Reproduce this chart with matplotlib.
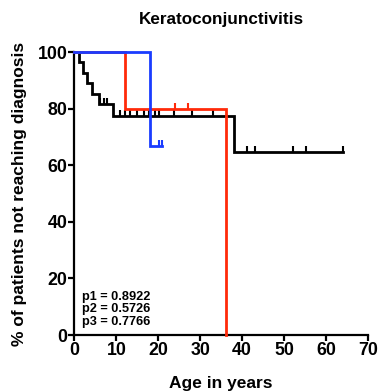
import matplotlib
matplotlib.use("Agg")
import matplotlib.pyplot as plt
import numpy as np
from matplotlib.path import Path

plt.rcParams['font.family'] = ['Liberation Sans', 'DejaVu Sans']
plt.rcParams['font.weight'] = 'bold'

# Black curve (steps)
black_t = [0, 1.1, 2.1, 3.0, 4.1, 5.8, 9.1, 38.0, 64.0]
black_s = [100, 96.3, 92.6, 88.9, 85.2, 81.5, 77.5, 64.6, 64.6]
black_cens_t = [6.2, 7.0, 7.8, 10.9, 12.1, 13.3, 14.9, 16.5, 17.9, 19.3, 20.1, 23.8, 28.0, 33.0,
                41.1, 43.1, 52.2, 55.2, 64.0]
black_cens_s = [81.5, 81.5, 81.5, 77.5, 77.5, 77.5, 77.5, 77.5, 77.5, 77.5, 77.5, 77.5, 77.5, 77.5,
                64.6, 64.6, 64.6, 64.6, 64.6]

# Red curve
red_t = [0, 12.1, 36.2]
red_s = [100, 80, 0]
red_cens_t = [24.0, 27.1]
red_cens_s = [80, 80]

# Blue curve
blue_t = [0, 18.0, 21.0]
blue_s = [100, 66.7, 66.7]
blue_cens_t = [20.1, 21.0]
blue_cens_s = [66.7, 66.7]

x_ticks = [0, 10, 20, 30, 40, 50, 60, 70]
y_ticks = [0, 20, 40, 60, 80, 100]
pvals = ["p1 = 0.8922", "p2 = 0.5726", "p3 = 0.7766"]

fig = plt.figure(figsize=(3.8, 3.91), dpi=100)
ax = fig.add_axes([0.196, 0.143, 0.772, 0.724])

tick_marker = Path([(0, 0), (0, 1)], [Path.MOVETO, Path.LINETO])

def km(t, s, ct, cs, color, z):
    ax.step(t, s, where='post', color=color, lw=2.0, clip_on=False, zorder=z,
            solid_joinstyle='miter')
    ax.plot(ct, cs, linestyle='none', marker=tick_marker, markersize=9,
            markeredgewidth=1.5, color=color, clip_on=False, zorder=z)

km(black_t, black_s, black_cens_t, black_cens_s, 'black', 3)
km(red_t, red_s, red_cens_t, red_cens_s, '#ff2a0a', 4)
km(blue_t, blue_s, blue_cens_t, blue_cens_s, '#1a3cff', 5)

ax.set_xlim(0, 70)
ax.set_ylim(0, 100)
ax.set_xticks(x_ticks)
ax.set_yticks(y_ticks)
for sp in ['top', 'right']:
    ax.spines[sp].set_visible(False)
for sp in ['left', 'bottom']:
    ax.spines[sp].set_linewidth(1.6)
ax.tick_params(axis='both', width=1.6, length=4, labelsize=12.8, pad=1)
for lbl in ax.get_xticklabels() + ax.get_yticklabels():
    lbl.set_fontweight('bold')

ax.set_xlabel('Age in years', fontsize=12.5, fontweight='bold', labelpad=12)
ax.set_ylabel('% of patients not reaching diagnosis', fontsize=12.5, fontweight='bold', labelpad=8)
ax.set_title('Keratoconjunctivitis', fontsize=12.3, fontweight='bold', pad=20)

ax.text(0.025, 0.025, "\n".join(pvals), transform=ax.transAxes, fontsize=9.2,
        fontweight='bold', va='bottom', ha='left', linespacing=1.08)

fig.savefig('out.png', dpi=100)
